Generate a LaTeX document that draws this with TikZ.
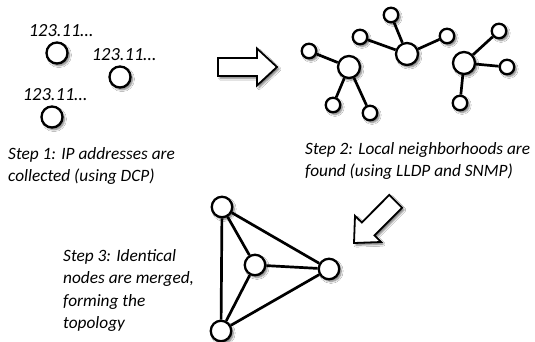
\documentclass[tikz,border=0pt]{standalone}
\usepackage{fontspec}
\setmainfont{Carlito}
\usetikzlibrary{positioning,shadows.blur}

\begin{document}
\begin{tikzpicture}[x=1pt,y=-1pt,
        softshadow/.style={blur shadow={shadow xshift=2pt,shadow yshift=-2.2pt,shadow blur steps=6,shadow opacity=55}},
        host/.style={circle,draw,line width=2.3pt,fill=white,inner sep=0pt,minimum size=21pt,softshadow},
        hub/.style={host,minimum size=22pt},
        leaf/.style={host,minimum size=14.5pt},
        iplabel/.style={font=\fontsize{18.5}{20}\selectfont\itshape},
        caption/.style={font=\fontsize{17.3}{22.5}\selectfont\itshape,align=left,anchor=north west,inner sep=0pt},
        link/.style={line width=2.7pt},
        fatarrow/.style={draw,line width=1.8pt,line join=miter,fill=white,softshadow}]

            \fill[white] (0,0) rectangle (535,342);
            \useasboundingbox (0,0) rectangle (535,342);

            % step 1: single hosts
            \node[host] (ip1) at (57,53) {};
            \node[host] (ip2) at (120,77) {};
            \node[host] (ip3) at (52,117) {};
            \node[iplabel,above=1pt of ip1,xshift=4pt] {123.11…};
            \node[iplabel,above=1pt of ip2,xshift=4pt] {123.11…};
            \node[iplabel,above=1pt of ip3,xshift=3pt] {123.11…};

            \node[caption] (cap1) at (8,147) {Step 1: IP addresses are\\collected (using DCP)};

            % arrow to step 2
            \coordinate (R1) at (218,58);
            \coordinate (R2) at (257,58);
            \coordinate (R3) at (257,48.5);
            \coordinate (R4) at (277,67);
            \coordinate (R5) at (257,85.5);
            \coordinate (R6) at (257,76);
            \coordinate (R7) at (218,76);
            \draw[fatarrow] (R1)--(R2)--(R3)--(R4)--(R5)--(R6)--(R7)--cycle;

            % step 2: local neighborhoods
            \node[hub] (A) at (349,67) {};
            \node[leaf] (A1) at (309,51) {};
            \node[leaf] (A2) at (333,105) {};
            \node[leaf] (A3) at (370,113) {};

            \node[hub] (B) at (407,54) {};
            \node[leaf] (B1) at (391,15) {};
            \node[leaf] (B2) at (360,37) {};
            \node[leaf] (B3) at (447,36) {};

            \node[hub] (C) at (464,63) {};
            \node[leaf] (C1) at (499,31) {};
            \node[leaf] (C2) at (507,67) {};
            \node[leaf] (C3) at (460,103) {};

            \foreach \h in {A,B,C}
                \foreach \l in {1,2,3}
                    \draw[link] (\h) -- (\h\l);

            \node[caption] (cap2) at (305,142) {Step 2: Local neighborhoods are\\found (using LLDP and SNMP)};

            % arrow to step 3
            \coordinate (S1) at (389.3,194.9);
            \coordinate (S2) at (361.8,222.5);
            \coordinate (S3) at (355.0,215.8);
            \coordinate (S4) at (354,243);
            \coordinate (S5) at (381.2,242.0);
            \coordinate (S6) at (374.5,235.3);
            \coordinate (S7) at (402.1,207.7);
            \draw[fatarrow] (S1)--(S2)--(S3)--(S4)--(S5)--(S6)--(S7)--cycle;

            % step 3: merged topology
            \node[host,minimum size=20.5pt] (T) at (222,207) {};
            \node[host,minimum size=20.5pt] (M) at (255,265) {};
            \node[host,minimum size=20.5pt] (E) at (329,269) {};
            \node[host,minimum size=20.5pt] (D) at (221,331) {};

            \draw[link] (T)--(D);
            \draw[link] (T)--(E);
            \draw[link] (T)--(M);
            \draw[link] (M)--(E);
            \draw[link] (M)--(D);
            \draw[link] (D)--(E);

            \node[caption] (cap3) at (63,249) {Step 3: Identical\\nodes are merged,\\forming the\\topology};
        \end{tikzpicture}
\end{document}
